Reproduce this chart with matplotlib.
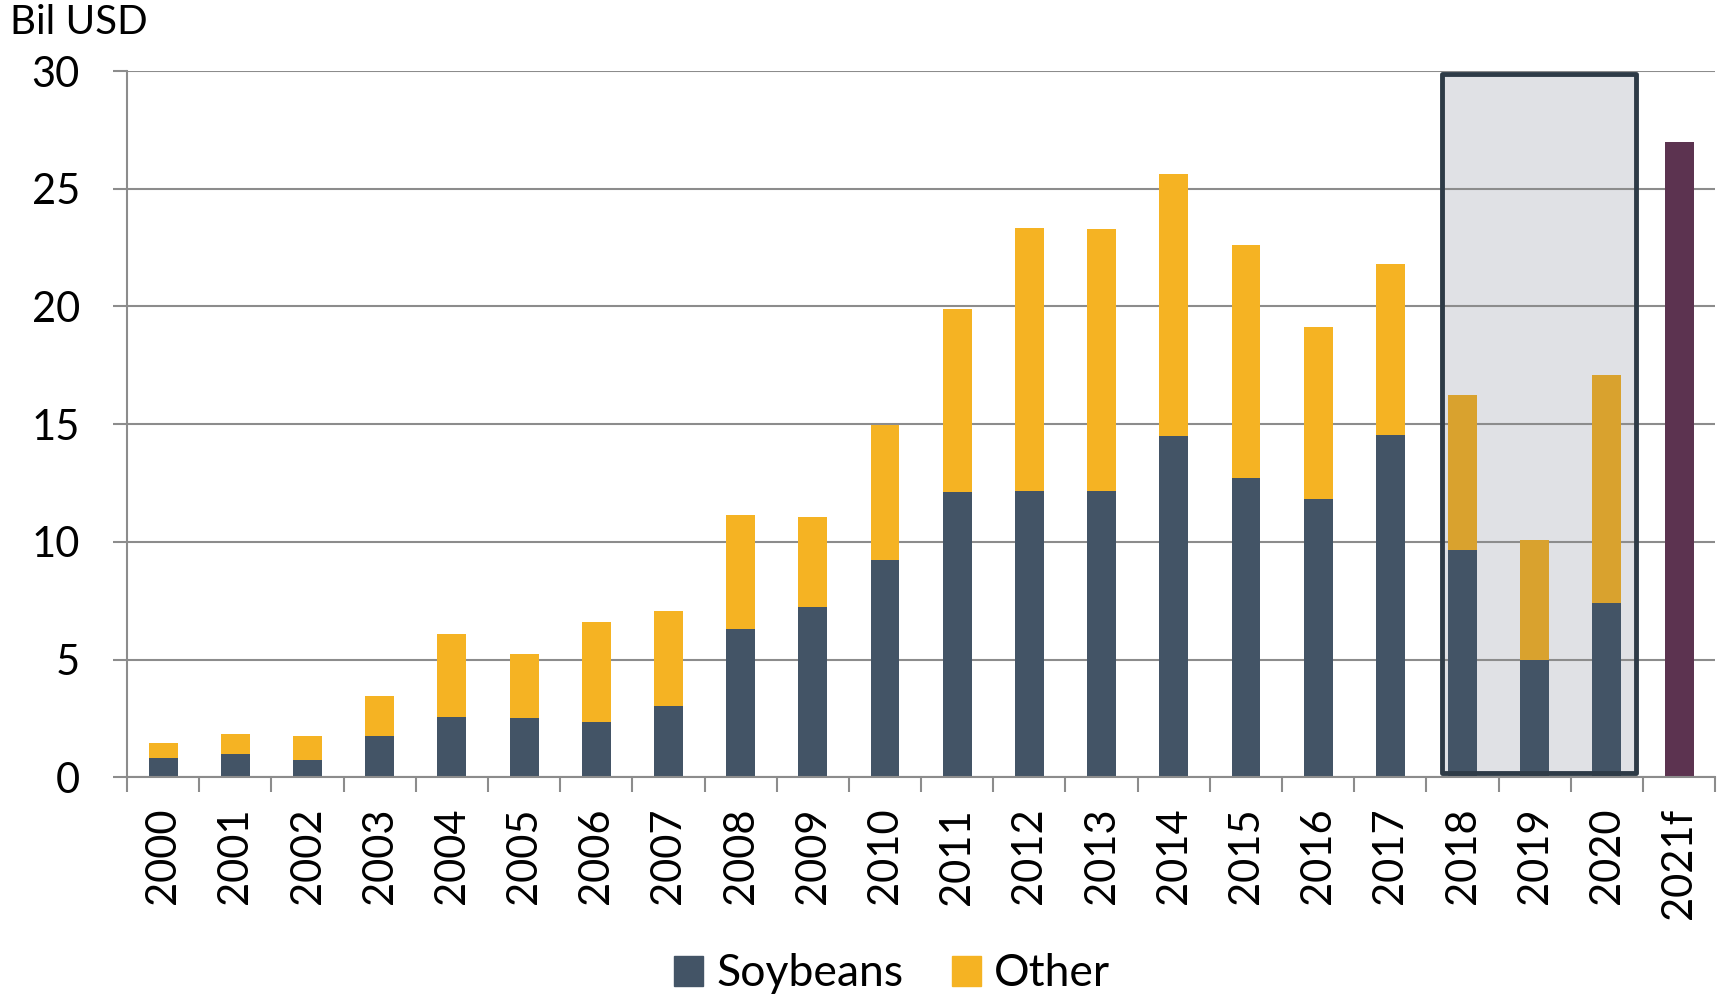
import matplotlib.pyplot as plt
from matplotlib.patches import Rectangle
import numpy as np

years = ["2000", "2001", "2002", "2003", "2004", "2005", "2006", "2007", "2008",
         "2009", "2010", "2011", "2012", "2013", "2014", "2015", "2016", "2017",
         "2018", "2019", "2020", "2021f"]
soybeans = [0.82, 0.98, 0.75, 1.77, 2.58, 2.53, 2.34, 3.04, 6.32, 7.25, 9.22,
            12.12, 12.17, 12.17, 14.5, 12.73, 11.84, 14.55, 9.64, 5.0, 7.39]
totals = [1.44, 1.85, 1.74, 3.46, 6.1, 5.24, 6.6, 7.07, 11.14, 11.04, 14.97,
          19.89, 23.35, 23.3, 25.64, 22.6, 19.14, 21.8, 16.24, 10.1, 17.08]
forecast_2021 = 27.0
highlight = ["2018", "2019", "2020"]

SOY = "#435466"
OTHER = "#f5b323"
OTHER_DIM = "#d9a22e"   # yellow as seen through the grey box
FORECAST = "#5c3350"
GRID = "#8c8c8c"

plt.rcParams['font.family'] = ['Lato', 'DejaVu Sans']

fig = plt.figure(figsize=(17.29, 10.01), dpi=100)
ax = fig.add_axes([0.0735, 0.2235, 0.9185, 0.7055])

x = np.arange(len(years))
n = len(soybeans)
other = [t - s for t, s in zip(totals, soybeans)]
other_colors = [OTHER_DIM if y in highlight else OTHER for y in years[:n]]

ax.bar(x[:n], soybeans, width=0.4, color=SOY, zorder=2)
ax.bar(x[:n], other, width=0.4, bottom=soybeans, color=other_colors, zorder=2)
ax.bar(x[n], forecast_2021, width=0.4, color=FORECAST, zorder=2)

# highlighted 2018-2020 box
i0 = years.index(highlight[0])
i1 = years.index(highlight[-1])
ax.add_patch(Rectangle((i0 - 0.28, 0.17), (i1 - i0) + 0.68, 29.71,
                       facecolor="#e0e1e5", edgecolor="none", zorder=0.2))
ax.add_patch(Rectangle((i0 - 0.28, 0.17), (i1 - i0) + 0.68, 29.71,
                       facecolor="none", edgecolor="#2e3b47", linewidth=3.5,
                       joinstyle="round", zorder=4))

ax.set_xlim(-0.5, len(years) - 0.5)
ax.set_ylim(0, 30)
ax.set_yticks(range(0, 31, 5))
ax.yaxis.grid(True, color=GRID, linewidth=1.5)
ax.set_axisbelow(True)

ax.set_xticks(x)
ax.set_xticklabels(years, rotation=90)
ax.set_xticks(np.arange(-0.5, len(years), 1), minor=True)
ax.tick_params(axis="x", which="major", length=0, pad=22, labelsize=30)
ax.tick_params(axis="x", which="minor", length=11, width=1.5, color=GRID)
ax.tick_params(axis="y", length=10, width=1.5, color=GRID, pad=24, labelsize=30)

for side in ["top", "right"]:
    ax.spines[side].set_visible(False)
ax.spines["left"].set_color(GRID)
ax.spines["left"].set_linewidth(1.5)
ax.spines["bottom"].set_color(GRID)
ax.spines["bottom"].set_linewidth(1.5)

fig.text(0.006, 0.978, "Bil USD", fontsize=29, va="center", ha="left")

legend_handles = [Rectangle((0, 0), 1, 1, color=SOY), Rectangle((0, 0), 1, 1, color=OTHER)]
fig.legend(legend_handles, ["Soybeans", "Other"], loc="center",
           bbox_to_anchor=(0.516, 0.027), ncol=2, frameon=False, fontsize=32,
           handlelength=0.65, handleheight=0.65, handletextpad=0.3, columnspacing=1.1)

fig.savefig("out.png", dpi=100)
